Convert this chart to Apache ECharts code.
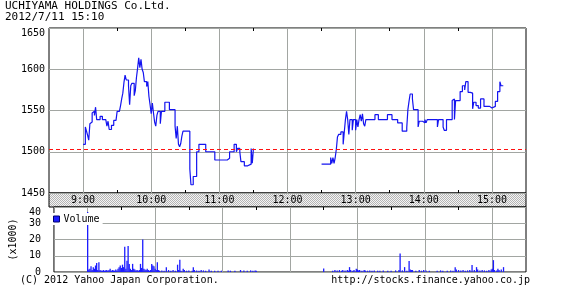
<!DOCTYPE html>
<html>
<head>
<meta charset="utf-8">
<script src="https://cdn.jsdelivr.net/npm/echarts@6/dist/echarts.min.js"></script>
<style>
html,body{margin:0;padding:0;background:#fff;}
#chart{width:564px;height:301px;}
</style>
</head>
<body>
<div id="chart"></div>
<script>
// ---- data ----
const titleText = 'UCHIYAMA HOLDINGS Co.Ltd.';
const dateText = '2012/7/11 15:10';
const prevClose = 1503;
const hourLabels = ['9:00','10:00','11:00','12:00','13:00','14:00','15:00'];
const halfHourTicks = ['9:30','10:30','11:30','12:30','13:30','14:30'];

const amTimes = ['9:00','9:02','9:03','9:04','9:05','9:06','9:07','9:08','9:09','9:10','9:11','9:12','9:15','9:17','9:20','9:21','9:22','9:23','9:25','9:27','9:29','9:30','9:32','9:33','9:34','9:35','9:36','9:37','9:38','9:40','9:41','9:42','9:43','9:45','9:46','9:47','9:48','9:49','9:50','9:51','9:52','9:53','9:54','9:56','9:57','9:58','9:59','10:00','10:01','10:02','10:03','10:04','10:05','10:06','10:08','10:09','10:12','10:16','10:21','10:22','10:23','10:24','10:25','10:26','10:27','10:28','10:34','10:35','10:37','10:40','10:42','10:48','10:56','11:07','11:09','11:13','11:15','11:16','11:18','11:19','11:22','11:25','11:28','11:29','11:30'];
const amPrices = [1509,1530,1525,1520,1514,1534,1536,1547,1549,1544,1554,1539,1543,1539,1537,1531,1537,1527,1532,1538,1539,1549,1550,1556,1564,1571,1584,1593,1587,1580,1557,1580,1583,1568,1574,1590,1601,1614,1602,1612,1600,1596,1585,1579,1585,1567,1557,1546,1559,1547,1536,1531,1544,1549,1534,1549,1560,1551,1531,1516,1531,1509,1506,1510,1519,1525,1479,1460,1470,1500,1509,1500,1490,1492,1500,1509,1500,1504,1500,1488,1483,1485,1504,1486,1504];

const pmTimes = ['12:30','12:38','12:39','12:40','12:41','12:42','12:43','12:44','12:45','12:47','12:49','12:50','12:51','12:52','12:53','12:54','12:55','12:57','12:58','13:00','13:01','13:02','13:03','13:04','13:05','13:06','13:07','13:08','13:09','13:17','13:20','13:28','13:32','13:37','13:41','13:45','13:46','13:47','13:48','13:50','13:51','13:55','13:56','13:59','14:00','14:01','14:02','14:03','14:12','14:13','14:17','14:18','14:20','14:25','14:26','14:27','14:28','14:32','14:34','14:36','14:37','14:39','14:41','14:43','14:44','14:46','14:48','14:50','14:53','14:58','15:00','15:01','15:03','15:05','15:07','15:08','15:10'];
const pmPrices = [1485,1493,1486,1493,1486,1493,1503,1518,1521,1524,1509,1524,1539,1549,1539,1521,1539,1526,1539,1526,1539,1530,1539,1545,1537,1546,1534,1531,1539,1545,1539,1545,1539,1535,1525,1529,1551,1561,1570,1564,1551,1530,1537,1539,1535,1539,1535,1539,1530,1539,1530,1526,1539,1562,1564,1539,1562,1573,1580,1575,1585,1572,1571,1552,1560,1556,1553,1564,1555,1553,1551,1555,1561,1573,1585,1580,1580];

const volTimes = ['9:00','9:01','9:02','9:03','9:04','9:05','9:06','9:07','9:08','9:09','9:10','9:11','9:12','9:13','9:14','9:15','9:16','9:17','9:18','9:19','9:20','9:21','9:22','9:23','9:24','9:25','9:26','9:27','9:28','9:29','9:30','9:31','9:32','9:33','9:34','9:35','9:36','9:37','9:38','9:39','9:40','9:41','9:42','9:43','9:44','9:45','9:46','9:47','9:48','9:49','9:50','9:51','9:52','9:53','9:54','9:55','9:56','9:57','9:58','9:59','10:00','10:01','10:02','10:03','10:04','10:06','10:08','10:10','10:12','10:14','10:16','10:18','10:20','10:21','10:22','10:23','10:25','10:26','10:28','10:30','10:33','10:34','10:35','10:37','10:39','10:41','10:43','10:45','10:48','10:50','10:53','10:56','10:59','11:05','11:07','11:11','11:16','11:19','11:22','11:25','11:27','11:29','11:30',
'12:30','12:38','12:40','12:42','12:44','12:46','12:47','12:49','12:51','12:52','12:53','12:54','12:56','12:57','12:59','13:00','13:01','13:02','13:04','13:06','13:07','13:09','13:11','13:13','13:15','13:18','13:20','13:23','13:27','13:30','13:34','13:37','13:38','13:40','13:42','13:44','13:46','13:47','13:48','13:49','13:52','13:55','13:57','13:59','14:01','14:04','14:11','14:14','14:16','14:20','14:23','14:25','14:27','14:28','14:30','14:32','14:34','14:36','14:38','14:40','14:42','14:44','14:46','14:47','14:49','14:51','14:53','14:55','14:57','14:59','15:00','15:01','15:02','15:04','15:05','15:06','15:08','15:10'];
const volValues = [37,1.5,2,3.5,1.2,3,2,4,5.5,1.2,6,1.2,1,0.8,1.2,0.8,1,1.2,0.8,1.2,2,0.8,1.2,1,0.8,1.5,1,2,3,4,2.5,4.5,3,15.5,2,7,16,5,2,1.2,5,2,1.5,1,1.2,0.8,1.2,5,2.5,20,2,1.5,1.2,2,1.2,0.8,1.2,5,4,3.5,2,1.2,6,1.2,0.8,1,0.8,3,1.2,0.8,1.2,0.8,4.5,1.2,7.5,0.8,2,1.2,0.8,1,0.8,3,1.2,1,0.8,1.2,1,0.8,1.5,0.8,0.8,0.8,0.8,1,0.8,0.8,1.2,1,0.8,1,0.8,1,0.8,
2.2,0.8,1.2,1,1.2,0.8,1.2,1,1.2,0.8,3,1.2,0.8,1.2,2,1.5,1,1.2,0.8,1.2,1,0.8,1,0.8,1,0.8,0.8,1,0.8,0.8,1,1.2,11.4,1,3,0.8,6.7,1.5,1.2,1.2,0.8,1.2,0.8,1.2,1,0.8,0.8,1,0.8,0.8,1,0.8,3,1.5,1.2,1,1.2,0.8,1,1.2,4.3,1.2,3,1.5,1,1.2,1,0.8,1.2,1.5,2,7.3,1.2,1,2,1.2,1.5,3];

// minute categories 8:30 .. 15:30 (axis only)
const minuteCats = [];
for (let t = 8 * 60 + 30; t <= 15 * 60 + 30; t++) {
  minuteCats.push(Math.floor(t / 60) + ':' + String(t % 60).padStart(2, '0'));
}

const FONT = 'DejaVu Sans Mono';
const GRID_COLOR = '#a2a6a2';
const LINE_COLOR = '#1414f0';
const isHour = (i, v) => hourLabels.includes(v);
const isHalf = (i, v) => halfHourTicks.includes(v);

// band pattern
const pc = document.createElement('canvas');
pc.width = 2; pc.height = 2;
const pctx = pc.getContext('2d');
pctx.fillStyle = '#f4f4f4'; pctx.fillRect(0, 0, 2, 2);
pctx.fillStyle = '#b4b4b4'; pctx.fillRect(0, 0, 1, 1); pctx.fillRect(1, 1, 1, 1);

const chart = echarts.init(document.getElementById('chart'), null, {renderer: 'canvas'});

function xAxisBase(gridIndex, position) {
  return {
    type: 'category', gridIndex: gridIndex, position: position, data: minuteCats, boundaryGap: false,
    axisLine: {show: false},
    axisTick: {show: true, inside: true, length: 3, interval: isHalf, lineStyle: {color: '#000'}},
    axisLabel: {show: false},
    splitLine: {show: false}
  };
}

const priceBottom = xAxisBase(0, 'bottom');
priceBottom.axisLabel = {show: true, interval: isHour, margin: 2, fontFamily: FONT, fontSize: 10, color: '#000'};
priceBottom.splitLine = {show: true, interval: isHour, lineStyle: {color: GRID_COLOR, width: 1}};
const priceTop = xAxisBase(0, 'top');
const volBottom = xAxisBase(1, 'bottom');
volBottom.axisTick = {show: false};
volBottom.splitLine = {show: true, interval: isHour, lineStyle: {color: GRID_COLOR, width: 1}};
const volTop = xAxisBase(1, 'top');

const plain = v => String(v);

const option = {
  animation: false,
  backgroundColor: '#fff',
  textStyle: {fontFamily: FONT},
  title: [
    {text: titleText, left: 5, top: 1, padding: 0, textStyle: {fontFamily: FONT, fontSize: 11, fontWeight: 'normal', color: '#000'}},
    {text: dateText, left: 5, top: 12, padding: 0, textStyle: {fontFamily: FONT, fontSize: 11, fontWeight: 'normal', color: '#000'}},
    {text: '(C) 2012 Yahoo Japan Corporation.', left: 20, top: 275, padding: 0, textStyle: {fontFamily: FONT, fontSize: 10, fontWeight: 'normal', color: '#000'}},
    {text: 'http://stocks.finance.yahoo.co.jp', right: 34, top: 275, padding: 0, textStyle: {fontFamily: FONT, fontSize: 10, fontWeight: 'normal', color: '#000'}}
  ],
  grid: [
    {left: 49, top: 28, width: 477, height: 165, show: true, borderColor: '#000', borderWidth: 1, backgroundColor: 'transparent'},
    {left: 49, top: 207, width: 477, height: 65, show: true, borderColor: '#000', borderWidth: 1, backgroundColor: 'transparent'}
  ],
  legend: {
    left: 51, top: 213, padding: [1, 3, 1, 2], backgroundColor: '#fff',
    itemWidth: 6, itemHeight: 6, itemGap: 4, icon: 'rect',
    textStyle: {fontFamily: FONT, fontSize: 10, color: '#000', padding: [0, 0, 0, -1]},
    itemStyle: {borderColor: '#000070', borderWidth: 1},
    data: ['Volume']
  },
  xAxis: [priceBottom, priceTop, volBottom, volTop],
  yAxis: [
    {
      type: 'value', gridIndex: 0, min: 1450, max: 1650, interval: 50,
      axisLine: {show: false}, axisTick: {show: false},
      axisLabel: {margin: 4, fontFamily: FONT, fontSize: 10, color: '#000', verticalAlignMaxLabel: 'top', formatter: plain},
      splitLine: {show: true, lineStyle: {color: GRID_COLOR, width: 1}}
    },
    {
      type: 'value', gridIndex: 1, min: 0, max: 40, interval: 10,
      name: '(x1000)', nameLocation: 'middle', nameRotate: 90, nameGap: 22,
      nameTextStyle: {fontFamily: FONT, fontSize: 10, color: '#000'},
      axisLine: {show: false}, axisTick: {show: false},
      axisLabel: {margin: 13, fontFamily: FONT, fontSize: 10, color: '#000', verticalAlignMaxLabel: 'top', formatter: plain},
      splitLine: {show: true, lineStyle: {color: GRID_COLOR, width: 1}}
    }
  ],
  graphic: [
    {type: 'rect', z: -1, shape: {x: 49, y: 193, width: 477, height: 14},
     style: {fill: {image: pc, repeat: 'repeat'}, stroke: '#000', lineWidth: 1}}
  ],
  series: [
    {
      name: 'Price AM', type: 'line', xAxisIndex: 0, yAxisIndex: 0, step: 'end',
      showSymbol: false, symbol: 'none',
      lineStyle: {color: LINE_COLOR, width: 1.2},
      data: amTimes.map((t, i) => [t, amPrices[i]]),
      markLine: {
        silent: true, symbol: ['none', 'none'], label: {show: false},
        lineStyle: {color: '#ff1010', type: [4, 3], width: 1},
        data: [{yAxis: prevClose}]
      }
    },
    {
      name: 'Price PM', type: 'line', xAxisIndex: 0, yAxisIndex: 0, step: 'end',
      showSymbol: false, symbol: 'none',
      lineStyle: {color: LINE_COLOR, width: 1.2},
      data: pmTimes.map((t, i) => [t, pmPrices[i]])
    },
    {
      name: 'Volume', type: 'bar', xAxisIndex: 2, yAxisIndex: 1, barWidth: 1.3,
      itemStyle: {color: '#1c1cff'},
      data: volTimes.map((t, i) => [t, volValues[i]])
    }
  ]
};
chart.setOption(option);
</script>
</body>
</html>
